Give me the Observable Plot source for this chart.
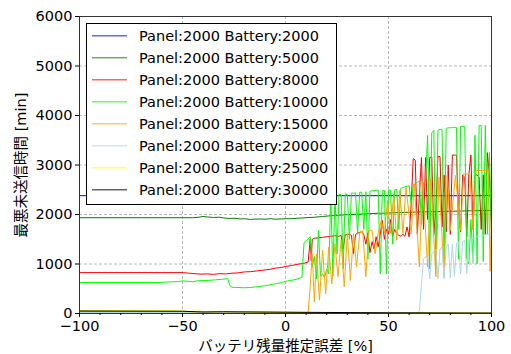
<!DOCTYPE html>
<html><head><meta charset="utf-8">
<script src="https://cdn.jsdelivr.net/npm/d3@7"></script>
<script src="https://cdn.jsdelivr.net/npm/@observablehq/plot@0.6"></script>
<style>body{margin:0;background:#fff} #chart{position:relative;width:511px;height:354px}</style>
</head><body><div id="chart"></div>
<script>
const seriesNames = ["Panel:2000 Battery:2000","Panel:2000 Battery:5000","Panel:2000 Battery:8000","Panel:2000 Battery:10000","Panel:2000 Battery:15000","Panel:2000 Battery:20000","Panel:2000 Battery:25000","Panel:2000 Battery:30000"];
const seriesColors = ["#0000ff","#008000","#ff0000","#00ff00","#ffa500","#add8e6","#ffff00","#000000"];
const xTicks = [-100,-50,0,50,100];
const xMinor = [-90,-80,-70,-60,-40,-30,-20,-10,10,20,30,40,60,70,80,90];
const yTicks = [0,1000,2000,3000,4000,5000,6000];
const xLabel = "バッテリ残量推定誤差 [%]";
const yLabel = "最悪未送信時間 [min]";

const b2000 = [[-100,2380],[100,2380]];
const b5000 = [[-100,1935],[-70,1935],[-50,1935],[-45,1935],[-42,1945],[-40,1960],[-38,1950],[-35,1940],[-32,1945],[-30,1930],[-27,1920],[-25,1925],[-22,1910],[-20,1915],[-17,1900],[-15,1905],[-12,1910],[-10,1905],[-7,1915],[-5,1905],[-2,1910],[0,1915],[3,1915],[6,1925],[10,1935],[14,1945],[18,1960],[22,1975],[26,1985],[30,1995],[35,2005],[40,2015],[45,2025],[50,2030],[55,2040],[60,2045],[65,2050],[70,2055],[75,2060],[80,2065],[85,2070],[90,2075],[95,2078],[100,2080]];
const b8000 = [[-100,826],[-60,826],[-50,826],[-47,815],[-44,805],[-41,795],[-38,800],[-35,790],[-32,805],[-29,800],[-26,815],[-23,820],[-20,840],[-17,845],[-14,860],[-11,875],[-8,890],[-5,915],[-2,930],[0,950],[3,970],[6,995],[9,1015],[11,1040],[12,1500],[12.5,1070],[13,1500],[14,1520],[16,1530],[18,1540],[20,1550],[22,1560],[24,1570],[26,1560],[27,1580],[28,1300],[29,1590],[30,1600],[31,1600],[32,1580],[33,1210],[34,1600],[35,1620],[36,1640],[37,1650],[38,1600],[39,1400],[40,1630],[41,1230],[42,1450],[43,1300],[44,1550],[45,1350],[46,1600],[47,1880],[48,1500],[49,1700],[50,1600],[51,1900],[52,1550],[53,1700],[54,1620],[55,1580],[56,1560],[57,1600],[58,1560],[59,1750],[60,1550],[61,2200],[62,3130],[63,3100],[64,1600],[65,2400],[66,3150],[67,1700],[68,3150],[69,1900],[70,3150],[71,3160],[72,1600],[73,2100],[74,3170],[75,3170],[76,1750],[77,2800],[78,1650],[79,3000],[80,1600],[81,3200],[82,3200],[83,3200],[84,2100],[85,1650],[86,2800],[87,2750],[88,1550],[89,2800],[90,3200],[91,1700],[92,2800],[93,2800],[94,2750],[95,1700],[96,2800],[97,1600],[98,3250],[99,2800],[100,1700]];
const b10000 = [[-100,625],[-62,625],[-58,635],[-55,640],[-52,645],[-50,660],[-47,650],[-45,640],[-43,660],[-40,665],[-37,670],[-34,680],[-31,690],[-28,705],[-27,560],[-26,530],[-23,525],[-20,520],[-17,525],[-14,540],[-11,555],[-8,575],[-5,600],[-2,625],[0,650],[3,670],[6,700],[8,735],[9,1430],[12,1550],[13,940],[14,1150],[15,700],[16,1680],[17,760],[18,800],[19,730],[20,900],[21,800],[22,2410],[23,760],[24,2400],[25,1200],[26,2410],[27,2400],[28,900],[29,2420],[30,2400],[31,1500],[32,2430],[33,2430],[34,2440],[35,1600],[36,2450],[37,2450],[38,1700],[39,2460],[40,1100],[41,2470],[42,2480],[43,2480],[44,2490],[45,2490],[46,800],[47,2480],[48,2490],[49,800],[50,2500],[51,2490],[52,1400],[53,2500],[54,2510],[55,1700],[56,2530],[57,2540],[58,2560],[59,2570],[60,2580],[61,2200],[62,2600],[63,2620],[64,2650],[65,2680],[66,1800],[67,2650],[68,2680],[69,3600],[70,900],[71,3650],[72,3700],[73,900],[74,3700],[75,3720],[76,3720],[77,1000],[78,3740],[79,3750],[80,3750],[81,3760],[82,3760],[83,3760],[84,1100],[85,3780],[86,3780],[87,3780],[88,1100],[89,1000],[90,1900],[91,1050],[92,3600],[93,1000],[94,3800],[95,3800],[96,1050],[97,3800],[98,1600],[99,3250],[100,1600]];
const b15000 = [[-100,40],[-50,35],[-20,30],[0,25],[10,20],[11,30],[12,540],[13,1210],[14,235],[15,1200],[16.5,270],[18,1280],[19.5,400],[21,1340],[22.5,600],[24,1410],[25.5,740],[27,1480],[28.5,540],[30,1610],[31.5,670],[33,1610],[34.5,940],[36,1620],[37.5,1680],[39,740],[40.5,1680],[42,1680],[43.5,1210],[45,1620],[46.5,1880],[48,1620],[49.5,2280],[51,1620],[52.5,2420],[54,1480],[55.5,2490],[57,1620],[58.5,2550],[61,1610],[62.5,2620],[65,940],[66.5,2690],[69,940],[70.5,2720],[73,740],[74.5,2750],[77,740],[78.5,2790],[80,1680],[82.5,2790],[85,1680],[86.5,2820],[89.5,2820],[91,1700],[92.5,2890],[98.5,2890],[99.3,850],[100,2000]];
const b20000 = [[-100,20],[64,10],[65,50],[67,1100],[68,1150],[69,1150],[70,700],[71,1200],[72,1250],[73,1300],[74,700],[75,1300],[76,1350],[77,700],[78,1350],[79,1400],[80,720],[81,1400],[82,750],[83,1420],[84,1450],[85,800],[86,1450],[87,1480],[88,800],[89,1500],[90,1520],[91,1000],[92,1540],[93,1550],[94,1560],[95,1570],[96,1580],[97,1590],[98,1600],[100,1600]];
const b25000 = [[-100,60],[-50,55],[-45,30],[-42,55],[-40,25],[-37,50],[-35,20],[-32,45],[-30,30],[-25,40],[-20,30],[0,20],[10,15],[50,10],[100,10]];
const b30000 = [[-100,50],[-50,45],[-40,30],[-30,35],[0,25],[50,15],[100,10]];
const seriesData = [b2000,b5000,b8000,b10000,b15000,b20000,b25000,b30000];

const font = "'DejaVu Sans', 'Noto Sans CJK JP', sans-serif";
const fmt = d => (d < 0 ? "\u2212" + Math.abs(d) : String(d));
const plot = Plot.plot({
  width: 511, height: 354,
  marginLeft: 79, marginRight: 20, marginTop: 16, marginBottom: 41,
  style: {fontFamily: font, fontSize: "14.5px", color: "#000", background: "#fff"},
  x: {domain: [-100, 100], label: null},
  y: {domain: [0, 6000], label: null},
  marks: [
    Plot.gridX(xTicks.slice(1, -1), {stroke: "#b8b8b8", strokeOpacity: 1, strokeDasharray: "3,2"}),
    Plot.gridY(yTicks.slice(1, -1), {stroke: "#b8b8b8", strokeOpacity: 1, strokeDasharray: "3,2"}),
    ...seriesData.map((d, i) => Plot.line(d, {x: p => p[0], y: p => p[1], stroke: seriesColors[i], strokeWidth: 1})),
    Plot.frame({stroke: "#333"}),
    Plot.axisX(xTicks, {tickSize: 4, tickPadding: 3, label: null, fontSize: 14.5, tickFormat: fmt}),
    Plot.axisX(xMinor, {tickSize: 2, text: null, label: null}),
    Plot.axisY(yTicks, {tickSize: 4, tickPadding: 3, label: null, fontSize: 14.5, tickFormat: fmt}),
    Plot.text([xLabel], {text: d => d, frameAnchor: "bottom", textAnchor: "middle", dy: 33, fontSize: 14.5, lineAnchor: "middle"}),
    Plot.text([yLabel], {text: d => d, frameAnchor: "left", textAnchor: "middle", rotate: -90, dx: -58, fontSize: 14.5, lineAnchor: "middle"})
  ]
});
document.getElementById("chart").appendChild(plot);

// legend
const svg = d3.select(plot);
const lg = svg.append("g").attr("font-family", font).attr("font-size", 14.5).attr("text-anchor", "start");
lg.append("rect").attr("x", 86.5).attr("y", 23.5).attr("width", 250).attr("height", 181)
  .attr("fill", "#fff").attr("stroke", "#000").attr("stroke-width", 1);
seriesNames.forEach((n, i) => {
  const y = 35.7 + i * 22;
  lg.append("line").attr("x1", 92).attr("x2", 127).attr("y1", y).attr("y2", y)
    .attr("stroke", seriesColors[i]).attr("stroke-opacity", 0.6).attr("stroke-width", 1.5);
  lg.append("text").attr("x", 139).attr("y", y).attr("dy", "0.35em").attr("text-anchor", "start").text(n);
});
</script></body></html>
